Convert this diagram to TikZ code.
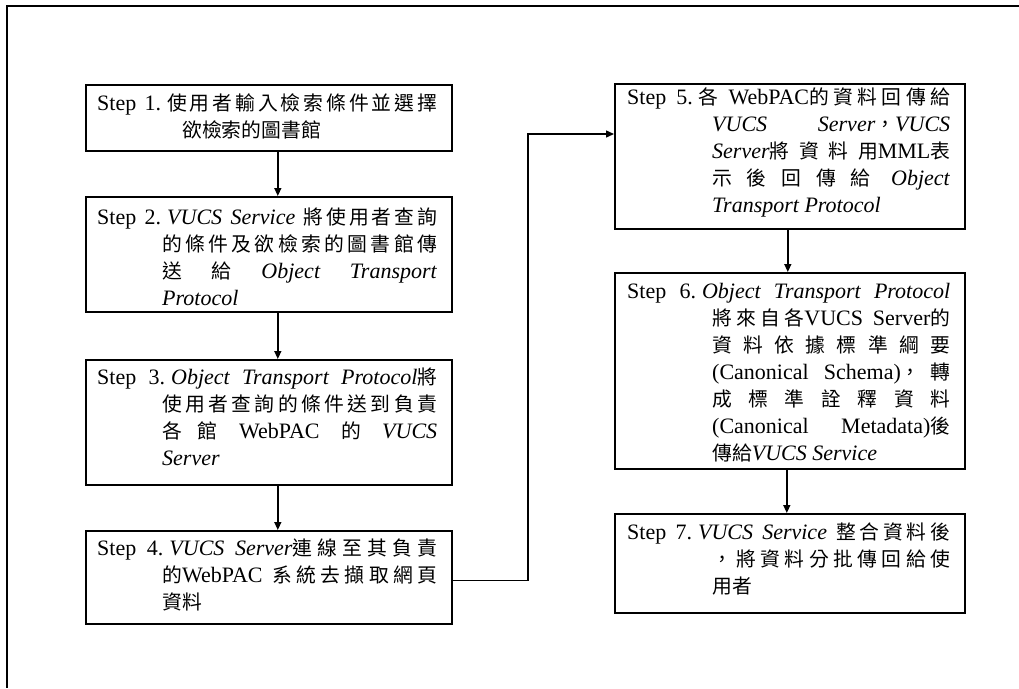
\documentclass[tikz,border=0pt]{standalone}
\usepackage{fontspec}
\setmainfont{Liberation Serif}
\newfontfamily\cjk[Scale=0.9]{Noto Sans CJK TC}
\usetikzlibrary{arrows.meta}
\XeTeXlinebreaklocale "zh"
\XeTeXlinebreakskip=0pt plus 1fil
\newcommand\zh[1]{{\cjk #1}}
\newcommand\stepfmt{\fontsize{22pt}{27pt}\selectfont
  \spaceskip=5.5pt plus 1fil\xspaceskip=5.5pt plus 1fil
  \leftskip=0pt\rightskip=0pt\parfillskip=0pt plus 1fill
  \hyphenpenalty=10000\exhyphenpenalty=10000}
\newcommand\steptext[2]{\stepfmt\hangindent=#1\hangafter=1\noindent #2\par}
\tikzset{
  box/.style={draw, line width=1.6pt, anchor=north west, inner sep=0pt, minimum width=#1},
  lbox/.style={box=366pt},
  rbox/.style={box=350pt},
  txt/.style={anchor=north west, inner sep=0pt, text width=#1},
  conn/.style={line width=1.4pt, -{Triangle[length=8pt,width=7pt]}},
  frame/.style={line width=1.6pt}
}
\begin{document}
\begin{tikzpicture}[x=1pt,y=-1pt]
\useasboundingbox (0,0) rectangle (1019,688);
\draw[frame] (1019,6) -- (7,6) -- (7,688);
% left column boxes
\node[lbox, minimum height=66pt]  (b1) at (85,84)  {};
\node[lbox, minimum height=115pt] (b2) at (85,196) {};
\node[lbox, minimum height=125pt] (b3) at (85,359) {};
\node[lbox, minimum height=93pt]  (b4) at (85,530) {};
% right column boxes
\node[rbox, minimum height=145pt] (b5) at (614,83)  {};
\node[rbox, minimum height=196pt] (b6) at (614,272) {};
\node[rbox, minimum height=99pt]  (b7) at (614,513) {};
% texts
\node[txt=340pt] (t1) at ([xshift=12pt,yshift=-10pt]b1.north west) {\steptext{85pt}{Step 1.\hspace{6pt}\zh{使用者輸入檢索條件並選擇}\linebreak \zh{欲檢索的圖書館}}};
\node[txt=340pt] (t2) at ([xshift=12pt,yshift=-12pt]b2.north west) {\steptext{65pt}{Step 2.\hspace{6pt}\textit{VUCS Service} \zh{將使用者查詢}\linebreak \zh{的條件及欲檢索的圖書館傳}\linebreak \zh{送 給} \textit{Object Transport}\linebreak \textit{Protocol}}};
\node[txt=340pt] (t3) at ([xshift=12pt,yshift=-9pt]b3.north west) {\steptext{65pt}{Step 3.\hspace{6pt}\textit{Object Transport Protocol}\zh{將}\linebreak \zh{使用者查詢的條件送到負責}\linebreak \zh{各館} WebPAC \zh{的} \textit{VUCS}\linebreak \textit{Server}}};
\node[txt=340pt] (t4) at ([xshift=12pt,yshift=-9pt]b4.north west) {\steptext{65pt}{Step 4.\hspace{6pt}\textit{VUCS Server}\zh{連線至其負責}\linebreak \zh{的}WebPAC \zh{系統去擷取網頁}\linebreak \zh{資料}}};
\node[txt=323pt] (t5) at ([xshift=13pt,yshift=-5pt]b5.north west) {\steptext{85pt}{Step 5.\hspace{6pt}\zh{各} WebPAC\zh{的資料回傳給}\linebreak \textit{VUCS Server}\zh{，}\textit{VUCS}\linebreak \textit{Server}\zh{將資料用}MML\zh{表}\linebreak \zh{示後回傳給} \textit{Object}\linebreak \textit{Transport Protocol}}};
\node[txt=323pt] (t6) at ([xshift=13pt,yshift=-11pt]b6.north west) {\steptext{85pt}{Step 6.\hspace{6pt}\textit{Object Transport Protocol}\linebreak \zh{將來自各}VUCS Server\zh{的}\linebreak \zh{資料依據標準綱要}\linebreak (Canonical Schema)\zh{，轉}\linebreak \zh{成標準詮釋資料}\linebreak (Canonical Metadata)\zh{後}\linebreak \zh{傳給}\textit{VUCS Service}}};
\node[txt=323pt] (t7) at ([xshift=13pt,yshift=-10pt]b7.north west) {\steptext{85pt}{Step 7.\hspace{6pt}\textit{VUCS Service} \zh{整合資料後}\linebreak \zh{，將資料分批傳回給使}\linebreak \zh{用者}}};
% connectors
\draw[conn] ([xshift=9pt]b1.south) -- ([xshift=9pt]b2.north);
\draw[conn] ([xshift=9pt]b2.south) -- ([xshift=9pt]b3.north);
\draw[conn] ([xshift=9pt]b3.south) -- ([xshift=9pt]b4.north);
\coordinate (e1) at (528,134);
\draw[conn] ([yshift=-3pt]b4.east) -| (e1) -- (e1 -| b5.west);
\draw[conn] ([xshift=-2pt]b5.south) -- ([xshift=-2pt]b6.north);
\draw[conn] ([xshift=-3pt]b6.south) -- ([xshift=-3pt]b7.north);
\end{tikzpicture}
\end{document}
